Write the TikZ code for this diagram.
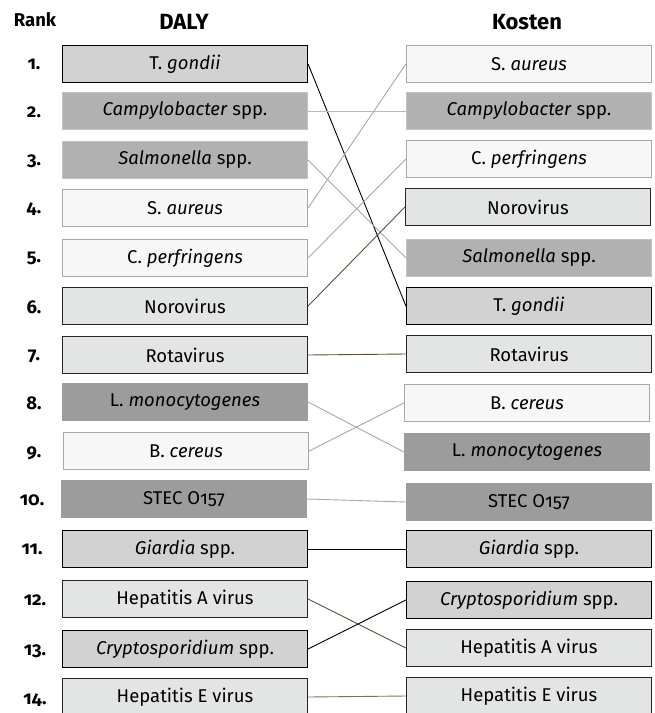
\documentclass[tikz,border=0pt]{standalone}
\usepackage{fontspec}
\setmainfont{Fira Sans}[Numbers=OldStyle]
\definecolor{boxgrey}{HTML}{D2D2D2}
\definecolor{boxlight}{HTML}{E3E5E5}
\definecolor{boxmid}{HTML}{B1B1B1}
\definecolor{boxmidline}{HTML}{C2C2C2}
\definecolor{boxdark}{HTML}{9C9C9C}
\definecolor{boxpale}{HTML}{F7F7F7}
\definecolor{boxpaleline}{HTML}{A8A8A8}
\definecolor{olive}{HTML}{5B5236}
\definecolor{olivelight}{HTML}{7D7458}
\definecolor{linkgrey}{HTML}{A8A8A8}
\tikzset{
  box/.style={minimum width=245pt, minimum height=37pt, inner sep=0pt,
    line width=1.2pt, font=\fontsize{18.5}{22}\selectfont},
  greybox/.style={box, fill=boxgrey, draw=black},
  lightbox/.style={box, fill=boxlight, draw=black!85},
  midbox/.style={box, fill=boxmid, draw=boxmidline},
  darkbox/.style={box, fill=boxdark, draw=boxdark},
  palebox/.style={box, fill=boxpale, draw=boxpaleline},
  head/.style={font=\bfseries\fontsize{22}{26}\selectfont},
  ranknr/.style={font=\bfseries\fontsize{18.5}{22}\selectfont},
  link/.style={line width=0.9pt}
}
\begin{document}
\begin{tikzpicture}[x=1pt,y=-1pt]
    \useasboundingbox (0,0) rectangle (655,713);
    \clip (0,0) rectangle (655,713);

    % Headers
    \node[ranknr] (rank) at (35,20) {Rank};
    \node[head] (daly) at (184,22) {DALY};
    \node[head] (kosten) at (527,22) {Kosten};

    % Ranks
    \node[ranknr] (r1) at (34,64) {1.};
    \node[ranknr] (r2) at (34,112) {2.};
    \node[ranknr] (r3) at (34,161) {3.};
    \node[ranknr] (r4) at (34,209) {4.};
    \node[ranknr] (r5) at (34,258) {5.};
    \node[ranknr] (r6) at (34,307) {6.};
    \node[ranknr] (r7) at (34,356) {7.};
    \node[ranknr] (r8) at (34,403) {8.};
    \node[ranknr] (r9) at (34,453) {9.};
    \node[ranknr] (r10) at (32,500) {10.};
    \node[ranknr] (r11) at (32,549) {11.};
    \node[ranknr] (r12) at (35,600) {12.};
    \node[ranknr] (r13) at (35,651) {13.};
    \node[ranknr] (r14) at (35,700) {14.};

    % DALY
    \node[greybox]  (d1)  at (185,64)  {T. \textit{gondii}};
    \node[midbox]   (d2)  at (185,111) {\textit{Campylobacter} spp.};
    \node[midbox]   (d3)  at (185,160) {\textit{Salmonella} spp.};
    \node[palebox]  (d4)  at (185,208) {S. \textit{aureus}};
    \node[palebox]  (d5)  at (185,258) {C. \textit{perfringens}};
    \node[lightbox] (d6)  at (185,306) {Norovirus};
    \node[lightbox] (d7)  at (185,355) {Rotavirus};
    \node[darkbox]  (d8)  at (185,402) {L. \textit{monocytogenes}};
    \node[palebox]  (d9)  at (186,451) {B. \textit{cereus}};
    \node[darkbox]  (d10) at (184,499) {STEC O157};
    \node[greybox]  (d11) at (185,549) {\textit{Giardia} spp.};
    \node[lightbox] (d12) at (185,599) {Hepatitis A virus};
    \node[greybox]  (d13) at (185,649) {\textit{Cryptosporidium} spp.};
    \node[lightbox] (d14) at (185,697) {Hepatitis E virus};

    % Kosten
    \node[palebox]  (k1)  at (529,64)  {S. \textit{aureus}};
    \node[midbox]   (k2)  at (529,111) {\textit{Campylobacter} spp.};
    \node[palebox]  (k3)  at (529,159) {C. \textit{perfringens}};
    \node[lightbox] (k4)  at (528,207) {Norovirus};
    \node[midbox]   (k5)  at (529,258) {\textit{Salmonella} spp.};
    \node[greybox]  (k6)  at (529,306) {T. \textit{gondii}};
    \node[lightbox] (k7)  at (529,354) {Rotavirus};
    \node[palebox]  (k8)  at (527,403) {B. \textit{cereus}};
    \node[darkbox]  (k9)  at (527,452) {L. \textit{monocytogenes}};
    \node[darkbox]  (k10) at (529,502) {STEC O157};
    \node[greybox]  (k11) at (529,549) {\textit{Giardia} spp.};
    \node[greybox]  (k12) at (529,600) {\textit{Cryptosporidium} spp.};
    \node[lightbox] (k13) at (529,648) {Hepatitis A virus};
    \node[lightbox] (k14) at (529,696) {Hepatitis E virus};

    % Lines
    \draw[link, black] (d1.east) -- (k6.west);
    \draw[link, linkgrey!80] (d2.east) -- (k2.west);
    \draw[link, linkgrey] (d3.east) -- (k5.west);
    \draw[link, linkgrey] (d4.east) -- (k1.west);
    \draw[link, linkgrey] (d5.east) -- (k3.west);
    \draw[link, olive] (d6.east) -- (k4.west);
    \draw[link, olive] (d7.east) -- (k7.west);
    \draw[link, linkgrey] (d8.east) -- (k9.west);
    \draw[link, linkgrey] (d9.east) -- (k8.west);
    \draw[link, linkgrey] (d10.east) -- (k10.west);
    \draw[link, black] (d11.east) -- (k11.west);
    \draw[link, olive] (d12.east) -- (k13.west);
    \draw[link, black] (d13.east) -- (k12.west);
    \draw[link, olivelight] (d14.east) -- (k14.west);

\end{tikzpicture}
\end{document}
